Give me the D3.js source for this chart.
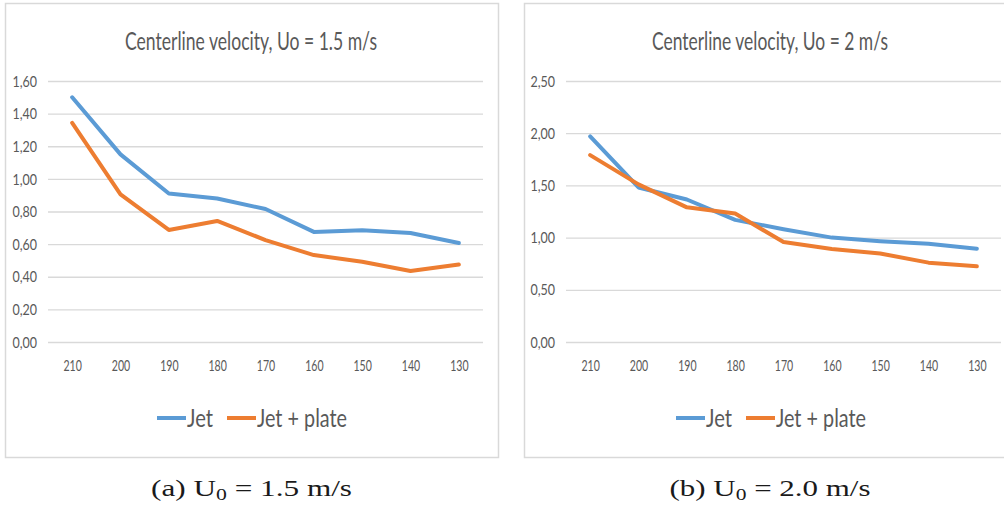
<!DOCTYPE html>
<html>
<head>
<meta charset="utf-8">
<script src="https://cdn.jsdelivr.net/npm/d3@7"></script>
<style>
  body { margin: 0; background: #fff; }
  svg { display: block; }
  .tick text { fill: #595959; font-family: Lato, "Open Sans", sans-serif; }
</style>
</head>
<body>
<div class="chart"></div>
<script>
// stations (mm), same for both panels
var stations = ["210", "200", "190", "180", "170", "160", "150", "140", "130"];

// Uo = 1.5 m/s
var jet15 = [1.50, 1.15, 0.91, 0.88, 0.815, 0.675, 0.685, 0.668, 0.607];
var plate15 = [1.343, 0.905, 0.687, 0.742, 0.625, 0.533, 0.492, 0.435, 0.475];
var ticks15 = [0, 0.2, 0.4, 0.6, 0.8, 1.0, 1.2, 1.4, 1.6];

// Uo = 2 m/s
var jet20 = [1.97, 1.48, 1.365, 1.17, 1.08, 1.00, 0.965, 0.94, 0.893];
var plate20 = [1.79, 1.51, 1.29, 1.23, 0.957, 0.89, 0.848, 0.76, 0.725];
var ticks20 = [0, 0.5, 1.0, 1.5, 2.0, 2.5];

var seriesNames = ["Jet", "Jet + plate"];
var colors = ["#5b9bd5", "#ed7d31"];

var svgWidth = 1004;
var svgHeight = 506;

var svg = d3.select(".chart")
  .append("svg")
  .attr("width", svgWidth)
  .attr("height", svgHeight);

// comma decimals like the excel export
var locale = d3.formatLocale({decimal: ",", thousands: ".", grouping: [3], currency: ["", ""]});
var fmt = locale.format(".2f");

// squeeze text horizontally to a given width (the source image is narrow)
function fitWidth(sel, w) {
  sel.attr("textLength", w).attr("lengthAdjust", "spacingAndGlyphs");
}
function squeeze(sel, k) {
  sel.each(function() {
    var t = d3.select(this);
    t.attr("textLength", this.getComputedTextLength() * k)
     .attr("lengthAdjust", "spacingAndGlyphs");
  });
}

function drawPanel(opt) {
  var g = svg.append("g").attr("transform", "translate(" + opt.left + ",0)");

  // frame
  g.append("rect")
    .attr("x", 0.5).attr("y", 3.5)
    .attr("width", 493).attr("height", 454)
    .attr("fill", "#fff")
    .attr("stroke", "#d9d9d9")
    .attr("stroke-width", 1.5);

  var x0 = opt.plotLeft, x1 = x0 + 435;
  var xScale = d3.scalePoint().domain(stations).range([x0, x1]).padding(0.5);
  var yScale = d3.scaleLinear().domain([0, d3.max(opt.ticks)]).range([342, 81]);

  // y axis + gridlines
  var yAxis = g.append("g")
    .attr("transform", "translate(" + x0 + ",0)")
    .call(d3.axisLeft(yScale).tickValues(opt.ticks).tickFormat(fmt)
      .tickSize(-(x1 - x0)).tickPadding(11));
  yAxis.select(".domain").remove();
  yAxis.selectAll(".tick line").attr("stroke", "#d9d9d9").attr("stroke-width", 1.3);
  yAxis.selectAll(".tick text").attr("font-size", 16);
  squeeze(yAxis.selectAll(".tick text"), 0.78);

  // x axis labels
  var xAxis = g.append("g")
    .attr("transform", "translate(0,342)")
    .call(d3.axisBottom(xScale).tickSize(0));
  xAxis.select(".domain").remove();
  xAxis.selectAll(".tick text")
    .attr("font-size", 16)
    .attr("dy", null)
    .attr("y", 29);
  squeeze(xAxis.selectAll(".tick text"), 0.66);

  // lines
  var line = d3.line()
    .x(function(d, i) { return xScale(stations[i]); })
    .y(function(d) { return yScale(d); });

  [opt.jet, opt.plate].forEach(function(vals, i) {
    g.append("path")
      .datum(vals)
      .attr("d", line)
      .attr("fill", "none")
      .attr("stroke", colors[i])
      .attr("stroke-width", 4)
      .attr("stroke-linejoin", "round")
      .attr("stroke-linecap", "round");
  });

  // title
  g.append("text")
    .attr("x", 246).attr("y", 50)
    .attr("text-anchor", "middle")
    .attr("fill", "#595959")
    .attr("font-family", "Lato, 'Open Sans', sans-serif")
    .attr("font-size", 25)
    .text(opt.title)
    .call(fitWidth, opt.titleWidth);

  // legend
  var legendX = [152, 222];
  var legendW = [26, 90];
  seriesNames.forEach(function(name, i) {
    g.append("line")
      .attr("x1", legendX[i]).attr("x2", legendX[i] + 29)
      .attr("y1", 418).attr("y2", 418)
      .attr("stroke", colors[i])
      .attr("stroke-width", 4);
    g.append("text")
      .attr("x", legendX[i] + 30).attr("y", 427)
      .attr("fill", "#595959")
      .attr("font-family", "Lato, 'Open Sans', sans-serif")
      .attr("font-size", 25)
      .text(name)
      .call(fitWidth, legendW[i]);
  });

  // caption under the frame
  var cap = g.append("text")
    .attr("x", opt.capX).attr("y", 496)
    .attr("text-anchor", "middle")
    .attr("fill", "#1a1a1a")
    .attr("font-family", "'Liberation Serif', 'DejaVu Serif', serif")
    .attr("font-size", 23)
    .style("white-space", "pre");
  cap.append("tspan").text(opt.capLetter + " U");
  cap.append("tspan").attr("font-size", 16).attr("dy", 4).text("0");
  cap.append("tspan").attr("dy", -4).text(" = " + opt.capValue + " m/s");
  fitWidth(cap, 201);
}

drawPanel({
  left: 5, plotLeft: 43,
  jet: jet15, plate: plate15, ticks: ticks15,
  title: "Centerline velocity, Uo = 1.5 m/s", titleWidth: 252,
  capX: 246.5, capLetter: "(a)", capValue: "1.5"
});

drawPanel({
  left: 524, plotLeft: 42,
  jet: jet20, plate: plate20, ticks: ticks20,
  title: "Centerline velocity, Uo = 2 m/s", titleWidth: 236,
  capX: 246, capLetter: "(b)", capValue: "2.0"
});
</script>
</body>
</html>
